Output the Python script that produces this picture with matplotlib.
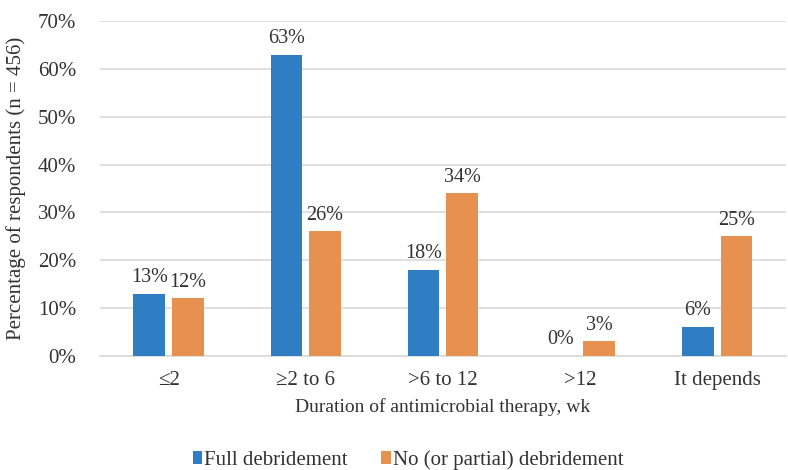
import matplotlib.pyplot as plt
import numpy as np

categories = ["\u22642", "\u22652 to 6", ">6 to 12", ">12", "It depends"]
full = [13, 63, 18, 0, 6]
partial = [12, 26, 34, 3, 25]

blue = "#2F7EC4"
orange = "#E69150"
textc = "#333333"

plt.rcParams['font.family'] = ['Liberation Serif', 'DejaVu Serif']

fig = plt.figure(figsize=(7.88, 4.70), dpi=100)
ax = fig.add_axes([0.127, 0.243, 0.87, 0.712])

x = np.arange(len(categories))
w = 0.232
off = 0.141
b1 = ax.bar(x - off, full, w, color=blue, label="Full debridement", zorder=3)
b2 = ax.bar(x + off, partial, w, color=orange, label="No (or partial) debridement", zorder=3)

for bars, vals in ((b1, full), (b2, partial)):
    for rect, v in zip(bars, vals):
        ax.text(rect.get_x() + rect.get_width() / 2, v + 1.4, f"{v}%",
                ha="center", va="bottom", fontsize=14.5, color=textc)

ax.set_xlim(-0.5, len(categories) - 0.5)
ax.set_ylim(0, 70)
ax.set_yticks(range(0, 71, 10))
ax.set_yticklabels([f"{t}%" for t in range(0, 71, 10)])
ax.set_xticks(x)
ax.set_xticklabels(categories)
ax.tick_params(axis="both", length=0, labelsize=15, colors=textc)
ax.tick_params(axis="y", pad=17)
ax.tick_params(axis="x", pad=11)
ax.yaxis.grid(True, color="#d9d9d9", linewidth=1.2, zorder=0)
for s in ("top", "right", "left"):
    ax.spines[s].set_visible(False)
ax.spines["bottom"].set_color("#d9d9d9")
ax.spines["bottom"].set_linewidth(1.2)

ax.set_xlabel("Duration of antimicrobial therapy, wk", fontsize=14, color=textc, labelpad=6)
ax.set_ylabel("Percentage of respondents (n = 456)", fontsize=15, color=textc, labelpad=9)

fig.legend(handles=[b1, b2], loc="center", bbox_to_anchor=(0.518, 0.022), ncol=2,
           frameon=False, fontsize=15, handlelength=0.45, handleheight=0.6,
           handletextpad=0.1, columnspacing=1.6, labelcolor=textc)

fig.savefig("out.png", dpi=100)
